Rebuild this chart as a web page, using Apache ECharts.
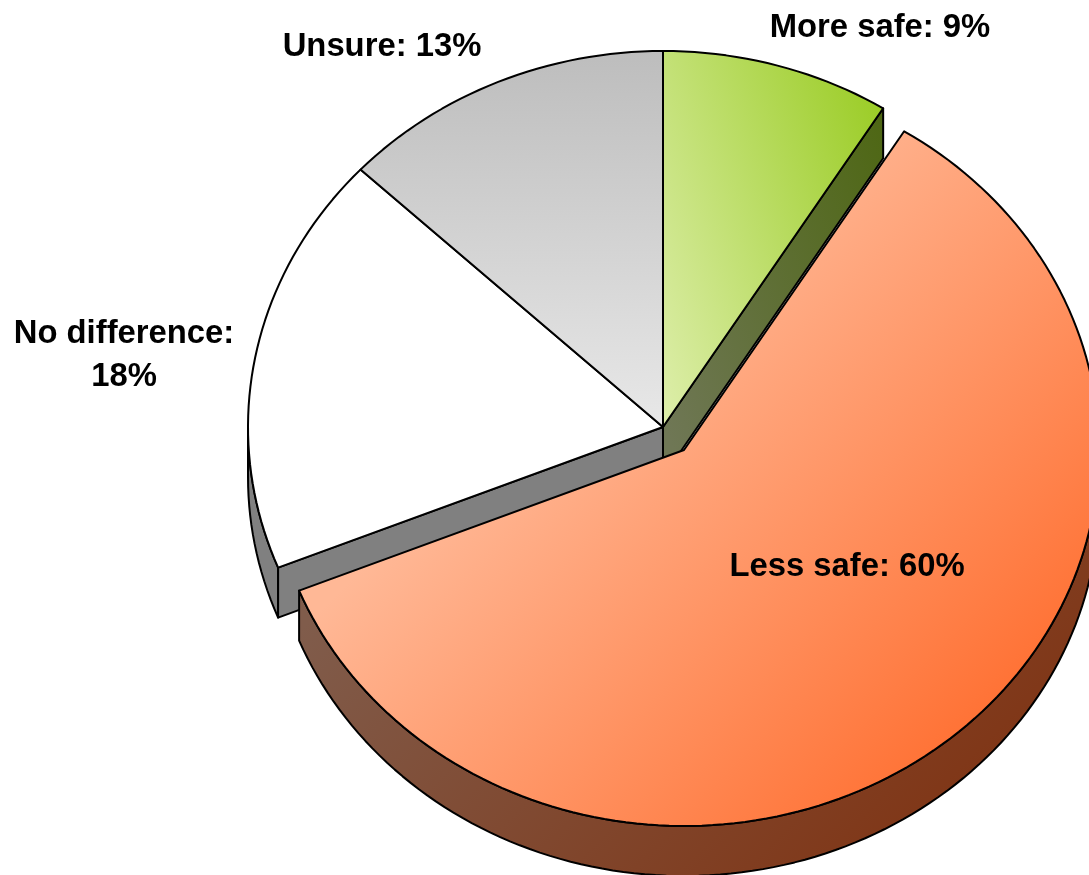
<!DOCTYPE html>
<html>
<head>
<meta charset="utf-8">
<style>html,body{margin:0;padding:0;background:#fff;overflow:hidden}#c{width:1089px;height:875px}</style>
<script src="https://cdn.jsdelivr.net/npm/echarts@6/dist/echarts.min.js"></script>
</head>
<body>
<div id="c"></div>
<script>
const categories = ['More safe', 'Less safe', 'No difference', 'Unsure'];
const values = [8.9, 60, 18.1, 13];
const labelLines = [['More safe: 9%'], ['Less safe: 60%'], ['No difference:', '18%'], ['Unsure: 13%']];

// layout & style
const center = [663, 427], rx = 415, ry = 376, depth = 50;
const explode = [[0, 0], [21, 23], [0, 0], [0, 0]];
const labelAt = [[880, 27.5], [847, 567], [124, 333.5], [382, 46.5]];
const grads = [
  [[663, 420], [953, 318], [[221, 238, 170], [156, 205, 40]]],
  [[560, 370], [990, 800], [[255, 184, 150], [255, 106, 42]]],
  [[0, 0], [0, 100], [[255, 255, 255], [255, 255, 255]]],
  [[663, 51], [663, 427], [[189, 189, 189], [232, 232, 232]]]
];
const total = values.reduce((a, b) => a + b, 0);
const D2R = Math.PI / 180;

function fill(i, k) {
  const g = grads[i];
  const css = c => 'rgb(' + c.map(v => Math.round(v * k)).join(',') + ')';
  return new echarts.graphic.LinearGradient(g[0][0], g[0][1], g[1][0], g[1][1],
    [{ offset: 0, color: css(g[2][0]) }, { offset: 1, color: css(g[2][1]) }], true);
}
function pt(c, t, dy) {
  return [c[0] + rx * Math.sin(t * D2R), c[1] - ry * Math.cos(t * D2R) + (dy || 0)];
}
function arc(c, a, b, dy) {
  const n = Math.max(2, Math.ceil(Math.abs(b - a) / 1.5)), out = [];
  for (let j = 0; j <= n; j++) out.push(pt(c, a + (b - a) * j / n, dy));
  return out;
}
function poly(points, style, z2) {
  return { type: 'polygon', z2, shape: { points }, style: Object.assign({ stroke: '#000', lineWidth: 2, lineJoin: 'round' }, style) };
}
function renderItem(params, api) {
  const i = params.dataIndex;
  const v = api.value(0);
  let before = 0;
  for (let j = 0; j < i; j++) before += values[j];
  const a = before / total * 360, b = a + v / total * 360;
  const c = [center[0] + explode[i][0], center[1] + explode[i][1]];
  const exploded = explode[i][0] !== 0;
  const baseZ = exploded ? 20 : 0;
  const kids = [];
  const wall = { fill: fill(i, 0.5) };
  // outer rim (lower half of the ellipse only)
  const ra = Math.max(a, 90), rb = Math.min(b, 270);
  if (rb > ra) {
    kids.push(poly(arc(c, ra, rb).concat(arc(c, rb, ra, depth)), wall, baseZ + 1));
  }
  // radial cut faces that can be seen from above
  [[a, -1], [b, 1]].forEach(([t, side]) => {
    const s = Math.sin(t * D2R) * side;
    if (s > 1e-6 && t < 270) {
      const p = pt(c, t);
      kids.push(poly([c, p, [p[0], p[1] + depth], [c[0], c[1] + depth]], wall, baseZ + 2));
    }
  });
  // top face
  kids.push(poly([c].concat(arc(c, a, b)), { fill: fill(i, 1) }, baseZ + 5));
  // label
  labelLines[i].forEach((line, k) => {
    kids.push({
      type: 'text', z2: 50,
      x: labelAt[i][0], y: labelAt[i][1] + k * 43.5,
      style: { text: line, fill: '#000', font: 'bold 32.8px "Liberation Sans", Arial, sans-serif', textAlign: 'center', textVerticalAlign: 'middle' }
    });
  });
  return { type: 'group', children: kids };
}

const chart = echarts.init(document.getElementById('c'));
chart.setOption({
  animation: false,
  backgroundColor: '#fff',
  series: [{
    type: 'custom',
    coordinateSystem: 'none',
    renderItem,
    data: values.map((v, i) => ({ name: categories[i], value: [v] }))
  }]
});
</script>
</body>
</html>
